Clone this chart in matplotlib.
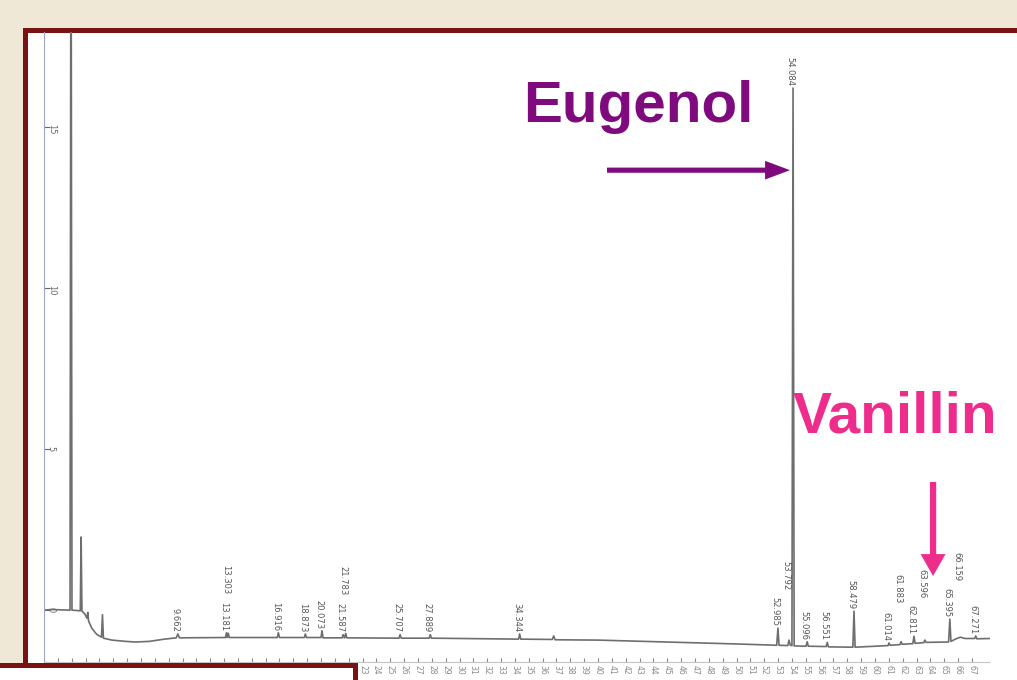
import numpy as np
import matplotlib.pyplot as plt
from matplotlib.patches import Rectangle

# chromatogram trace (time in min, detector signal)
trace_time = [0.00, 0.50, 1.88, 1.95, 2.02, 2.62, 2.68, 2.74, 2.95, 3.10, 3.16, 3.22,
              3.45, 3.80, 4.15, 4.22, 4.29, 4.90, 5.90, 6.60, 7.60, 8.70,
              9.55, 9.66, 9.78, 13.10, 13.18, 13.24, 13.30, 13.38,
              16.84, 16.92, 17.00, 18.80, 18.87, 18.95, 20.00, 20.07, 20.15,
              21.52, 21.59, 21.68, 21.72, 21.78, 21.86, 25.63, 25.71, 25.79,
              27.81, 27.89, 27.97, 34.26, 34.34, 34.42, 36.70, 36.80, 36.90,
              40.00, 45.00, 50.00, 52.90, 52.99, 53.07, 53.70, 53.79, 53.88,
              54.00, 54.08, 54.16, 55.02, 55.10, 55.18, 56.47, 56.55, 56.63,
              58.40, 58.48, 58.56, 60.00, 60.94, 61.01, 61.09, 61.80, 61.88, 61.96,
              62.73, 62.81, 62.89, 63.52, 63.60, 63.68, 65.31, 65.40, 65.48,
              65.80, 66.16, 66.50, 67.19, 67.27, 67.35, 68.30]
trace_signal = [0.00, 0.02, 0.00, 25.0, 0.00, -0.02, 2.27, -0.03, -0.12, -0.25, -0.07, -0.34,
                -0.56, -0.75, -0.84, -0.14, -0.87, -0.93, -0.97, -0.99, -0.97, -0.90,
                -0.86, -0.74, -0.86, -0.85, -0.70, -0.85, -0.72, -0.85,
                -0.85, -0.70, -0.85, -0.85, -0.74, -0.85, -0.85, -0.64, -0.86,
                -0.86, -0.76, -0.86, -0.85, -0.72, -0.86, -0.87, -0.76, -0.87,
                -0.87, -0.76, -0.87, -0.90, -0.74, -0.90, -0.91, -0.80, -0.92,
                -0.93, -0.99, -1.05, -1.09, -0.56, -1.09, -1.10, -0.93, -1.09,
                -1.10, 16.21, -1.11, -1.12, -0.98, -1.12, -1.13, -1.00, -1.14,
                -1.15, -0.03, -1.15, -1.12, -1.10, -1.02, -1.09, -1.07, -0.98, -1.06,
                -1.04, -0.81, -1.03, -1.01, -0.93, -1.00, -0.99, -0.28, -0.97,
                -0.90, -0.84, -0.88, -0.88, -0.80, -0.89, -0.88]

# labelled peaks: retention time, signal at peak top, stacked label (1) or not (0)
peak_times = [9.662, 13.181, 13.303, 16.916, 18.873, 20.073, 21.587, 21.783, 25.707,
              27.889, 34.344, 52.985, 53.792, 54.084, 55.096, 56.551, 58.479, 61.014,
              61.883, 62.811, 63.596, 65.395, 66.159, 67.271]
peak_tops = [-0.74, -0.70, -0.72, -0.70, -0.74, -0.64, -0.76, -0.72, -0.76,
             -0.76, -0.74, -0.56, -0.93, 16.21, -0.98, -1.00, -0.03, -1.02,
             -0.98, -0.81, -0.93, -0.28, -0.84, -0.80]
peak_stacked = [0, 0, 1, 0, 0, 0, 0, 1, 0, 0, 0, 0, 1, 0, 0, 0, 0, 0, 1, 0, 1, 0, 1, 0]

y_ticks = [0, 5, 10, 15]
x_ticks = list(range(0, 68))

W, H = 1017, 680
fig = plt.figure(figsize=(W / 100, H / 100), dpi=100, facecolor='#efe8d6')

# slide frame
frame = Rectangle((24.5 / W, 1 - 720 / H), 1100 / W, (720 - 29.5) / H,
                  transform=fig.transFigure, facecolor='white',
                  edgecolor='#7a1214', lw=3.6, zorder=-5)
fig.add_artist(frame)

ax = fig.add_axes([44 / W, 1 - 662 / H, (990 - 44) / W, (662 - 32) / H])
ax.set_facecolor('none')
ax.set_xlim(0, 68.3)
ax.set_ylim(-1.61, 17.95)

ax.plot(trace_time, trace_signal, color='#6e6e6e', lw=1.2)

# retention time labels above the peaks
for i, (t, top, st) in enumerate(zip(peak_times, peak_tops, peak_stacked)):
    base = top
    if st:
        base = max(top, peak_tops[i - 1])
    ax.annotate(f'{t:.3f}', xy=(t, base), xytext=(-3, 2 + 36 * st),
                textcoords='offset pixels', rotation=270, ha='center',
                va='bottom', fontsize=6, color='#555555')

for s in ['top', 'right']:
    ax.spines[s].set_visible(False)
ax.spines['left'].set_color('#9aa6c6')
ax.spines['bottom'].set_color('#c4c4c4')
ax.spines['bottom'].set_linestyle((0, (2, 1)))

ax.set_yticks(y_ticks)
ax.set_yticklabels([str(v) for v in y_ticks])
ax.tick_params(axis='y', direction='in', length=4, pad=-8.5, labelrotation=270,
               labelsize=6, colors='#666666')
ax.set_xticks(x_ticks)
ax.set_xticklabels([str(v) for v in x_ticks])
ax.tick_params(axis='x', direction='in', length=3, pad=2, labelrotation=270,
               labelsize=5.5, colors='#888888')

# compound call-outs
ax.text(34.58, 15.16, 'Eugenol', color='#7e0a7e', fontsize=42,
        fontweight='bold', family='Liberation Sans', ha='left', va='baseline')
ax.arrow(40.65, 13.66, 53.86 - 40.65, 0, width=0.16, head_width=0.58,
         head_length=1.8, length_includes_head=True, color='#7e0a7e', lw=0)

ax.text(54.08, 5.50, 'Vanillin', color='#ee2c8c', fontsize=42,
        fontweight='bold', family='Liberation Sans', ha='left', va='baseline')
ax.arrow(64.19, 3.98, 0, 1.06 - 3.98, width=0.45, head_width=1.8,
         head_length=0.68, length_includes_head=True, color='#ee2c8c', lw=0)

# box of the next slide element covering the lower left corner
box = Rectangle((-5 / W, 1 - 700 / H), 360 / W, 35 / H, transform=fig.transFigure,
                facecolor='white', edgecolor='#7a1214', lw=3.6, zorder=10)
fig.add_artist(box)

fig.savefig('out.png', dpi=100, facecolor=fig.get_facecolor())
